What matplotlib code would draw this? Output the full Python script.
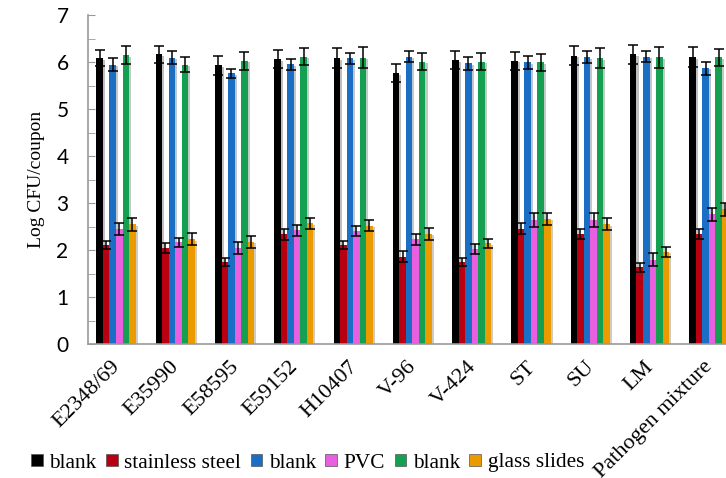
import numpy as np
import matplotlib
matplotlib.use("Agg")
import matplotlib.pyplot as plt
import matplotlib.patheffects as pe
import matplotlib.transforms as mtransforms
from matplotlib.patches import Patch

strains = ["E2348/69", "E35990", "E58595", "E59152", "H10407", "V-96",
           "V-424", "ST", "SU", "LM", "Pathogen mixture"]
series_names = ["blank", "stainless steel", "blank", "PVC", "blank", "glass slides"]
colors = ["#000000", "#b80010", "#1a6fc4", "#e860e0", "#14a050", "#eb9a00"]

blank_ss = [6.08, 6.16, 5.93, 6.06, 6.08, 5.76, 6.04, 6.02, 6.13, 6.16, 6.10]
ss = [2.11, 2.04, 1.75, 2.33, 2.11, 1.86, 1.74, 2.45, 2.34, 1.63, 2.34]
blank_pvc = [5.94, 6.09, 5.76, 5.95, 6.08, 6.11, 5.97, 5.99, 6.10, 6.11, 5.87]
pvc = [2.45, 2.16, 2.04, 2.42, 2.40, 2.23, 2.02, 2.64, 2.64, 1.79, 2.76]
blank_gs = [6.14, 5.94, 6.02, 6.11, 6.09, 6.01, 6.01, 5.99, 6.08, 6.10, 6.10]
gs = [2.55, 2.23, 2.17, 2.57, 2.52, 2.34, 2.14, 2.66, 2.55, 1.96, 2.87]

err_blank_ss = [0.17, 0.19, 0.20, 0.19, 0.21, 0.19, 0.19, 0.20, 0.20, 0.20, 0.21]
err_ss = [0.09, 0.11, 0.09, 0.12, 0.09, 0.11, 0.09, 0.12, 0.11, 0.10, 0.11]
err_blank_pvc = [0.14, 0.14, 0.09, 0.12, 0.12, 0.12, 0.13, 0.14, 0.13, 0.12, 0.14]
err_pvc = [0.13, 0.10, 0.13, 0.12, 0.11, 0.12, 0.10, 0.14, 0.14, 0.14, 0.14]
err_blank_gs = [0.19, 0.16, 0.19, 0.18, 0.22, 0.19, 0.19, 0.18, 0.21, 0.22, 0.18]
err_gs = [0.14, 0.13, 0.12, 0.12, 0.12, 0.12, 0.09, 0.12, 0.13, 0.11, 0.14]

values = [blank_ss, ss, blank_pvc, pvc, blank_gs, gs]
errors = [err_blank_ss, err_ss, err_blank_pvc, err_pvc, err_blank_gs, err_gs]

serif = ["Liberation Serif", "DejaVu Serif"]

fig = plt.figure(figsize=(7.26, 4.78), dpi=100)
ax = fig.add_axes([88 / 726, 1 - 344 / 478, 1 - 88 / 726, (344 - 15) / 478])

x = np.arange(len(strains))
w = 0.11
shadow = [pe.SimplePatchShadow(offset=(1.5, -1), alpha=0.25), pe.Normal()]
for i, (vals, errs) in enumerate(zip(values, errors)):
    pos = x + (i - 2.5) * w
    bars = ax.bar(pos, vals, width=w, color=colors[i], zorder=2)
    for b in bars:
        b.set_path_effects(shadow)
    ax.errorbar(pos, vals, yerr=errs, fmt="none", ecolor="black",
                elinewidth=1.1, capsize=3.5, capthick=1.1, zorder=3)

ax.set_xlim(-0.472, 10.29)
ax.set_ylim(0, 7)
ax.set_yticks(range(8))
ax.set_yticks(np.arange(0.5, 7, 1), minor=True)
ax.tick_params(axis="y", which="both", direction="in", length=5,
               color="#999999", labelsize=15, pad=14)
for lab in ax.get_yticklabels():
    lab.set_family(["Lato", "DejaVu Sans"])

ax.set_xticks(x)
ax.set_xticklabels(strains, rotation=45, ha="right", va="top",
                   family=serif, fontsize=16)
ax.tick_params(axis="x", length=0, pad=6)
shift = mtransforms.ScaledTranslation(8 / 100, -5 / 100, fig.dpi_scale_trans)
for lab in ax.get_xticklabels():
    lab.set_transform(lab.get_transform() + shift)

for s in ["top", "right"]:
    ax.spines[s].set_visible(False)
for s in ["left", "bottom"]:
    ax.spines[s].set_color("#999999")
    ax.spines[s].set_linewidth(1.2)

ax.set_ylabel("Log CFU/coupon", family=serif, fontsize=14, labelpad=8)

handles = [Patch(facecolor=c, edgecolor="#555555", linewidth=0.5) for c in colors]
fig.legend(handles, series_names, loc="center left", bbox_to_anchor=(0.043, 1 - 463 / 478),
           ncol=6, frameon=False, prop={"family": serif, "size": 15.3},
           handlelength=0.55, handleheight=0.55, handletextpad=0.3,
           columnspacing=0.45, borderaxespad=0, borderpad=0)

fig.savefig("out.png", dpi=100)
